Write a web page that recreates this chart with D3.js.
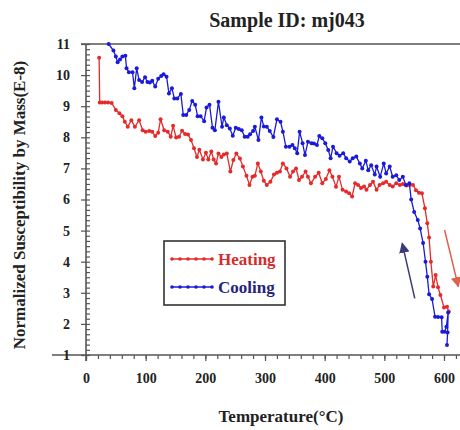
<!DOCTYPE html>
<html>
<head>
<meta charset="utf-8">
<script src="https://cdn.jsdelivr.net/npm/d3@7"></script>
<style>
  body { margin: 0; background: #fff; }
  svg text { font-family: "Liberation Serif", "DejaVu Serif", serif; font-weight: bold; }
</style>
</head>
<body>
<svg id="chart"></svg>
<script>
const width = 460;
const height = 430;

// heating run (red)
const heatT = [22, 23, 27, 32, 37, 43, 50, 56, 61, 65, 70, 76, 82, 89, 95, 100, 106, 111, 116, 121,
  125, 131, 137, 142, 146, 151, 156, 161, 166, 171, 176, 181, 186, 190, 196, 201, 205, 210, 214, 218,
  222, 227, 231, 236, 242, 247, 252, 258, 263, 269, 274, 279, 283, 288, 293, 298, 303, 309, 315, 320,
  325, 330, 336, 342, 347, 352, 357, 362, 368, 372, 377, 384, 390, 396, 402, 408, 413, 419, 424, 430,
  436, 441, 446, 451, 456, 461, 466, 470, 476, 481, 487, 492, 498, 503, 509, 514, 520, 526, 531, 537,
  542, 548, 553, 558, 563, 568, 572, 575, 578, 582, 586, 590, 594, 600, 605, 608];
const heatK = [10.56, 9.12, 9.12, 9.12, 9.12, 9.1, 8.88, 8.77, 8.68, 8.5, 8.34, 8.55, 8.34, 8.55, 8.23, 8.18, 8.2, 8.18, 8.04, 8.15,
  8.58, 8.23, 8.18, 8.02, 8.37, 7.99, 8.02, 8.21, 8.11, 8.09, 7.91, 7.65, 7.37, 7.6, 7.29, 7.5, 7.29, 7.54, 7.29, 7.16,
  7.48, 7.37, 7.45, 7.48, 6.9, 7.27, 7.48, 7.32, 7.06, 6.76, 6.47, 6.73, 6.76, 7.16, 6.9, 6.6, 6.47, 6.57, 6.8, 6.86,
  6.9, 7.16, 7.0, 6.73, 6.9, 7.0, 6.63, 6.73, 6.9, 6.73, 6.52, 6.73, 6.86, 6.52, 6.66, 6.94, 6.73, 6.41, 6.73, 6.31,
  6.26, 6.2, 6.1, 6.52, 6.47, 6.37, 6.42, 6.31, 6.47, 6.57, 6.31, 6.47, 6.52, 6.57, 6.47, 6.42, 6.52, 6.47, 6.5, 6.45,
  6.47, 6.47, 6.3, 6.22, 6.2, 5.72, 5.24, 4.78, 4.0, 3.2, 3.57, 3.18, 2.93, 2.53, 2.55, 2.4];

// cooling run (blue)
const coolT = [38, 46, 50, 53, 57, 61, 66, 68, 72, 78, 81, 85, 89, 94, 99, 103, 107, 111, 116, 121,
  126, 130, 135, 139, 144, 148, 153, 159, 163, 168, 173, 178, 183, 187, 192, 198, 202, 207, 212, 216,
  222, 228, 231, 236, 241, 246, 251, 256, 261, 266, 271, 275, 280, 283, 289, 294, 298, 303, 308, 314,
  320, 326, 330, 335, 341, 346, 350, 354, 358, 363, 367, 372, 378, 382, 387, 391, 396, 401, 406, 410,
  414, 420, 425, 431, 436, 442, 447, 453, 459, 463, 469, 473, 478, 484, 487, 493, 499, 503, 509, 514,
  520, 525, 531, 536, 542, 545, 550, 556, 560, 565, 569, 572, 575, 580, 585, 590, 596, 597, 601, 604,
  607, 606, 605];
const coolK = [11.0, 10.79, 10.6, 10.41, 10.5, 10.6, 10.62, 10.22, 10.09, 10.09, 9.58, 10.22, 9.84, 9.78, 9.93, 9.78, 9.76, 9.82, 9.63, 9.88,
  9.97, 10.03, 9.95, 9.41, 9.58, 9.25, 9.25, 9.39, 8.72, 8.72, 8.88, 9.17, 9.05, 8.68, 8.68, 8.52, 8.96, 9.05, 8.31, 8.23,
  9.14, 8.34, 8.64, 8.39, 8.28, 8.05, 8.31, 8.27, 8.23, 8.02, 8.02, 8.1, 8.2, 8.34, 7.91, 8.64, 8.35, 8.34, 8.2, 8.01,
  8.58, 8.5, 8.18, 7.7, 7.7, 7.75, 7.65, 7.49, 8.18, 7.81, 7.43, 7.86, 7.81, 7.8, 7.75, 8.04, 7.97, 7.81, 7.59, 7.33,
  7.7, 7.49, 7.41, 7.49, 7.33, 7.22, 7.33, 7.38, 7.16, 7.0, 7.25, 6.94, 7.1, 6.8, 7.06, 6.73, 7.16, 6.84, 7.06, 6.73,
  6.78, 6.63, 6.73, 6.47, 6.52, 6.0, 5.6, 5.34, 5.07, 4.6, 4.0, 3.52, 2.95, 2.8, 2.23, 2.22, 2.21, 1.75, 1.75, 1.91,
  2.37, 1.72, 1.32];

const xMajor = [0, 100, 200, 300, 400, 500, 600];
const yMajor = [1, 2, 3, 4, 5, 6, 7, 8, 9, 10, 11];
const seriesNames = ['Heating', 'Cooling'];

// arrows in data units: [fromT, fromK, toT, toK]
const coolArrow = [551, 2.82, 530, 4.59];
const heatArrow = [601, 5.02, 624, 3.2];

const red = '#e42a2a';
const blue = '#1a1ad8';

const svg = d3.select('#chart').attr('width', width).attr('height', height);

const x = d3.scaleLinear().domain([0, 600]).range([86, 444]);
const y = d3.scaleLinear().domain([1, 11]).range([355, 44]);

const axisColor = '#555';

// frame lines
svg.append('line').attr('x1', 52).attr('x2', width).attr('y1', y(1)).attr('y2', y(1))
  .attr('stroke', axisColor).attr('stroke-width', 1.6);
svg.append('line').attr('x1', 81).attr('x2', width).attr('y1', y(11)).attr('y2', y(11))
  .attr('stroke', axisColor).attr('stroke-width', 1.6);
svg.append('line').attr('x1', x(0)).attr('x2', x(0)).attr('y1', y(11)).attr('y2', y(1) + 6)
  .attr('stroke', axisColor).attr('stroke-width', 1.6);

// x axis
const xMinor = d3.range(0, 640, 20);
svg.append('g').attr('transform', `translate(0,${y(1)})`)
  .call(d3.axisBottom(x).tickValues(xMinor).tickSize(4).tickFormat(''))
  .call(g => g.select('.domain').remove());
const xAxis = svg.append('g').attr('transform', `translate(0,${y(1)})`)
  .call(d3.axisBottom(x).tickValues(xMajor).tickSize(6).tickPadding(12).tickFormat(d3.format('d')))
  .call(g => g.select('.domain').remove());
xAxis.selectAll('text').attr('font-size', 14).attr('fill', '#222');

// y axis
const yMinor = d3.range(0, 61).map(i => 1 + i / 6);
svg.append('g').attr('transform', `translate(${x(0)},0)`)
  .call(d3.axisRight(y).tickValues(yMinor).tickSize(4).tickFormat(''))
  .call(g => g.select('.domain').remove());
const yAxis = svg.append('g').attr('transform', `translate(${x(0)},0)`)
  .call(d3.axisLeft(y).tickValues(yMajor).tickSize(5).tickPadding(11).tickFormat(d3.format('d')))
  .call(g => g.select('.domain').remove());
yAxis.selectAll('text').attr('font-size', 14).attr('fill', '#222');
svg.selectAll('.tick line').attr('stroke', axisColor).attr('stroke-width', 1.2);

// series
const line = d3.line().x(d => x(d[0])).y(d => y(d[1]));
const heatData = heatT.map((t, i) => [t, heatK[i]]);
const coolData = coolT.map((t, i) => [t, coolK[i]]);

[[heatData, red], [coolData, blue]].forEach(([data, color]) => {
  svg.append('path').datum(data)
    .attr('d', line).attr('fill', 'none').attr('stroke', color).attr('stroke-width', 1.3);
  svg.append('g').selectAll('circle').data(data).enter().append('circle')
    .attr('cx', d => x(d[0])).attr('cy', d => y(d[1])).attr('r', 2).attr('fill', color);
});

// arrows
const defs = svg.append('defs');
function arrowHead(id, color) {
  defs.append('marker').attr('id', id).attr('viewBox', '0 0 10 10')
    .attr('refX', 9).attr('refY', 5).attr('markerWidth', 7).attr('markerHeight', 7)
    .attr('orient', 'auto')
    .append('path').attr('d', 'M0,0 L10,5 L0,10 z').attr('fill', color);
}
arrowHead('headBlue', '#3b3b78');
arrowHead('headRed', '#e0604c');
[[coolArrow, '#3b3b78', 'headBlue'], [heatArrow, '#e0604c', 'headRed']].forEach(([a, c, m]) => {
  svg.append('line')
    .attr('x1', x(a[0])).attr('y1', y(a[1])).attr('x2', x(a[2])).attr('y2', y(a[3]))
    .attr('stroke', c).attr('stroke-width', 1.5).attr('marker-end', `url(#${m})`);
});

// legend
const legend = svg.append('g');
legend.append('rect').attr('x', 164).attr('y', 241).attr('width', 121).attr('height', 64)
  .attr('fill', '#fff').attr('stroke', '#333').attr('stroke-width', 1.6);
const legendColors = [red, blue];
const legendText = ['#d42c2c', '#24247e'];
seriesNames.forEach((name, i) => {
  const ly = 259 + i * 28;
  legend.append('line').attr('x1', 172).attr('x2', 212).attr('y1', ly).attr('y2', ly)
    .attr('stroke', legendColors[i]).attr('stroke-width', 1.3);
  legend.selectAll(null).data(d3.range(6)).enter().append('circle')
    .attr('cx', k => 172 + k * 8).attr('cy', ly).attr('r', 1.8).attr('fill', legendColors[i]);
  legend.append('text').attr('x', 218).attr('y', ly + 6).attr('font-size', 17)
    .attr('fill', legendText[i]).text(name);
});

// titles
svg.append('text').attr('x', 287).attr('y', 27).attr('text-anchor', 'middle')
  .attr('font-size', 20).attr('fill', '#222').text('Sample ID: mj043');
svg.append('text').attr('x', 281).attr('y', 422).attr('text-anchor', 'middle')
  .attr('font-size', 17).attr('fill', '#222').text('Temperature(°C)');
svg.append('text').attr('transform', 'translate(25,205) rotate(-90)').attr('text-anchor', 'middle')
  .attr('font-size', 17).attr('fill', '#222').text('Normalized Susceptibility by Mass(E-8)');
</script>
</body>
</html>
